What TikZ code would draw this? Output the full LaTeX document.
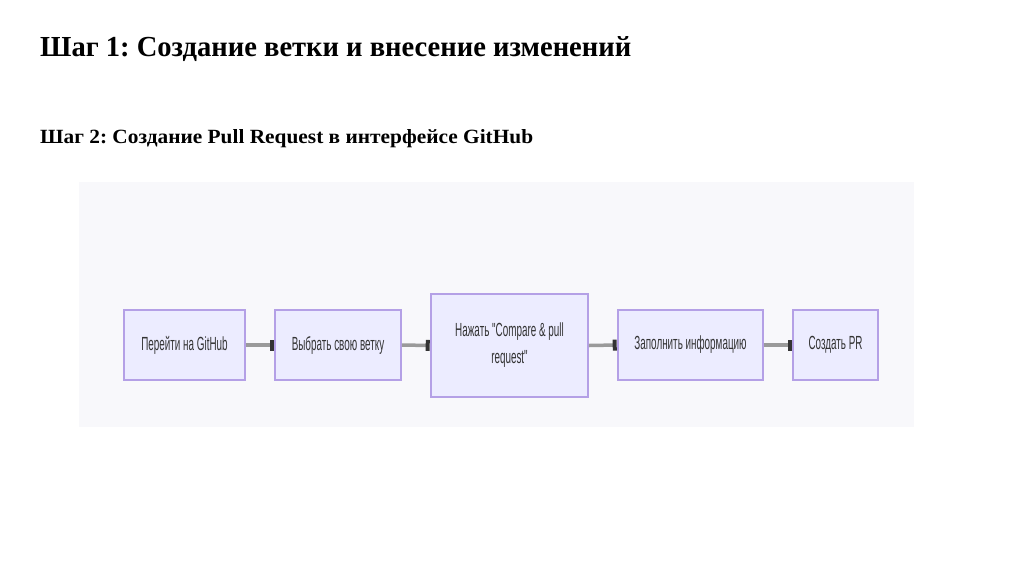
\documentclass[tikz,border=0pt]{standalone}
\usepackage{fontspec}
\setmainfont{Liberation Serif}
\newfontfamily\boxfont[FakeStretch=0.52]{Liberation Sans}
\usetikzlibrary{arrows.meta}
\definecolor{panelbg}{HTML}{F8F8FB}
\definecolor{boxfill}{HTML}{ECECFF}
\definecolor{boxline}{HTML}{B4A0E6}
\definecolor{linkgray}{HTML}{9A9A9A}
\definecolor{tipdark}{HTML}{333333}
\definecolor{boxtext}{HTML}{333333}
\tikzset{
  stepbox/.style={draw=boxline, line width=1.6pt, fill=boxfill, inner sep=0pt,
    font=\boxfont\fontsize{19}{27}\selectfont, text=boxtext, align=center},
  link/.style={draw=linkgray, line width=3.5pt,
    -{Rectangle[length=4pt,width=11pt,color=tipdark,fill=tipdark]}, shorten >=0.5pt},
  title/.style={anchor=base west, inner sep=0pt, font=\bfseries}
}
\frenchspacing
\begin{document}
\begin{tikzpicture}[x=1pt,y=-1pt]
\useasboundingbox (0,0) rectangle (1024,574);
\fill[white] (0,0) rectangle (1024,574);
\node[title] (t1) at (40,56) {\resizebox{591pt}{20pt}{Шаг 1: Создание ветки и внесение изменений}};
\node[title] (t2) at (40,143) {\resizebox{493pt}{14pt}{Шаг 2: Создание Pull Request в интерфейсе GitHub}};
\fill[panelbg] (79,182) rectangle (914,427);
\node[stepbox, minimum width=121pt, minimum height=70pt] (a) at (184.5,345) {Перейти на GitHub};
\node[stepbox, minimum width=126pt, minimum height=70pt] (b) at (338,345) {Выбрать свою ветку};
\node[stepbox, minimum width=157pt, minimum height=103pt] (c) at (509.5,345.5) {Нажать "Compare \& pull\\request"};
\node[stepbox, minimum width=145pt, minimum height=70pt] (d) at (690.5,345) {Заполнить информацию};
\node[stepbox, minimum width=85pt, minimum height=70pt] (e) at (835.5,345) {Создать PR};
\draw[link] (a.east) -- (b.west);
\draw[link] (b.east) -- (c.west);
\draw[link] (c.east) -- (d.west);
\draw[link] (d.east) -- (e.west);
\end{tikzpicture}
\end{document}
